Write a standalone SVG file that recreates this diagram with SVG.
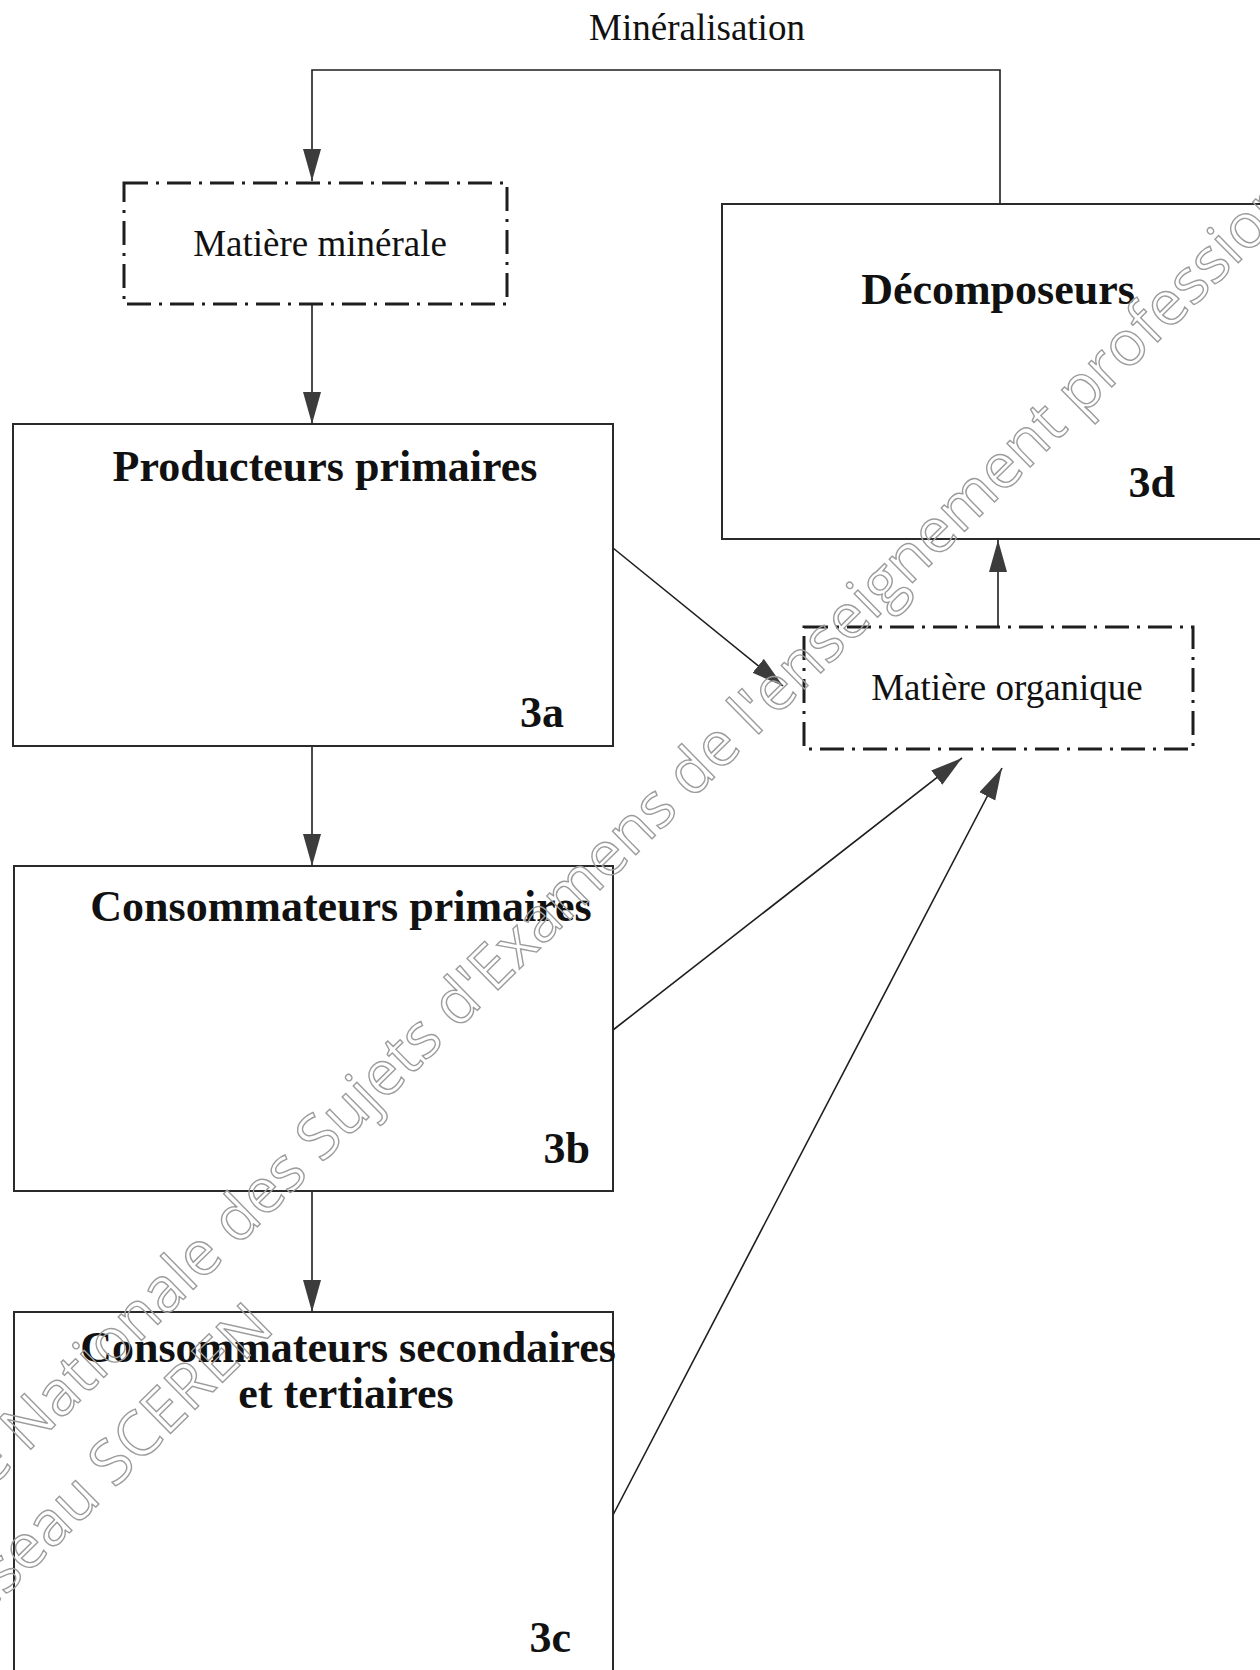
<svg xmlns="http://www.w3.org/2000/svg" width="1260" height="1670" viewBox="0 0 1260 1670">
<style>
.bg{fill:#fff}
.box{fill:none;stroke:#2a2a2a;stroke-width:2}
.dd{fill:none;stroke:#1e1e1e;stroke-width:3;stroke-dasharray:24 8 3 8}
.edge{fill:none;stroke:#1e1e1e;stroke-width:1.6}
.reg{font-family:"Liberation Serif","Times New Roman",serif;font-size:37px;fill:#111}
.bold{font-family:"Liberation Serif","Times New Roman",serif;font-size:44px;font-weight:bold;fill:#111}
.wm{font-family:"Open Sans","DejaVu Sans",sans-serif;font-size:62px;fill:none;stroke:#9c9c9c;stroke-width:1.4}
</style>
<defs>
<marker id="ah" markerUnits="userSpaceOnUse" markerWidth="34" markerHeight="20" refX="32" refY="9" orient="auto">
<path d="M0,0 L32,9 L0,18 z" fill="#3c3c3c"/>
</marker>
</defs>
<rect class="bg" x="0" y="0" width="1260" height="1670"/>

<g id="connectors">
<path class="edge" d="M1000,204 V70 H312 V181" marker-end="url(#ah)"/>
<path class="edge" d="M312,304 V424" marker-end="url(#ah)"/>
<path class="edge" d="M312,746 V866" marker-end="url(#ah)"/>
<path class="edge" d="M312,1191 V1312" marker-end="url(#ah)"/>
<path class="edge" d="M998,626 V540" marker-end="url(#ah)"/>
<path class="edge" d="M613,548 L783,686" marker-end="url(#ah)"/>
<path class="edge" d="M613,1030 L962,758" marker-end="url(#ah)"/>
<path class="edge" d="M613,1515 L1002,768" marker-end="url(#ah)"/>
</g>

<text class="reg" x="697" y="40" text-anchor="middle">Minéralisation</text>

<g id="matiere-minerale">
<rect class="dd" x="124" y="183" width="383" height="121"/>
<text class="reg" x="320" y="256" text-anchor="middle">Matière minérale</text>
</g>

<g id="producteurs">
<rect class="box" x="13" y="424" width="600" height="322"/>
<text class="bold" x="325" y="481" text-anchor="middle">Producteurs primaires</text>
<text class="bold" x="564" y="727" text-anchor="end">3a</text>
</g>

<g id="consommateurs-primaires">
<rect class="box" x="14" y="866" width="599" height="325"/>
<text class="bold" x="341" y="921" text-anchor="middle">Consommateurs primaires</text>
<text class="bold" x="590" y="1163" text-anchor="end">3b</text>
</g>

<g id="consommateurs-secondaires">
<rect class="box" x="14" y="1312" width="599" height="380"/>
<text class="bold" x="348" y="1362" text-anchor="middle">Consommateurs secondaires</text>
<text class="bold" x="346" y="1408" text-anchor="middle">et tertiaires</text>
<text class="bold" x="571" y="1652" text-anchor="end">3c</text>
</g>

<g id="decomposeurs">
<rect class="box" x="722" y="204" width="560" height="335"/>
<text class="bold" x="998" y="304" text-anchor="middle">Décomposeurs</text>
<text class="bold" x="1175" y="497" text-anchor="end">3d</text>
</g>

<g id="matiere-organique">
<rect class="dd" x="804" y="627" width="389" height="122"/>
<text class="reg" x="1007" y="700" text-anchor="middle">Matière organique</text>
</g>

<g id="watermark">
<text class="wm" transform="translate(25,1455) rotate(-44.5)" x="-153" y="0">Base Nationale des Sujets d'Examens de l'enseignement professionnel</text>
<text class="wm" transform="translate(276,1330) rotate(-44.5)" x="0" y="0" text-anchor="end">Réseau SCEREN</text>
</g>
</svg>
